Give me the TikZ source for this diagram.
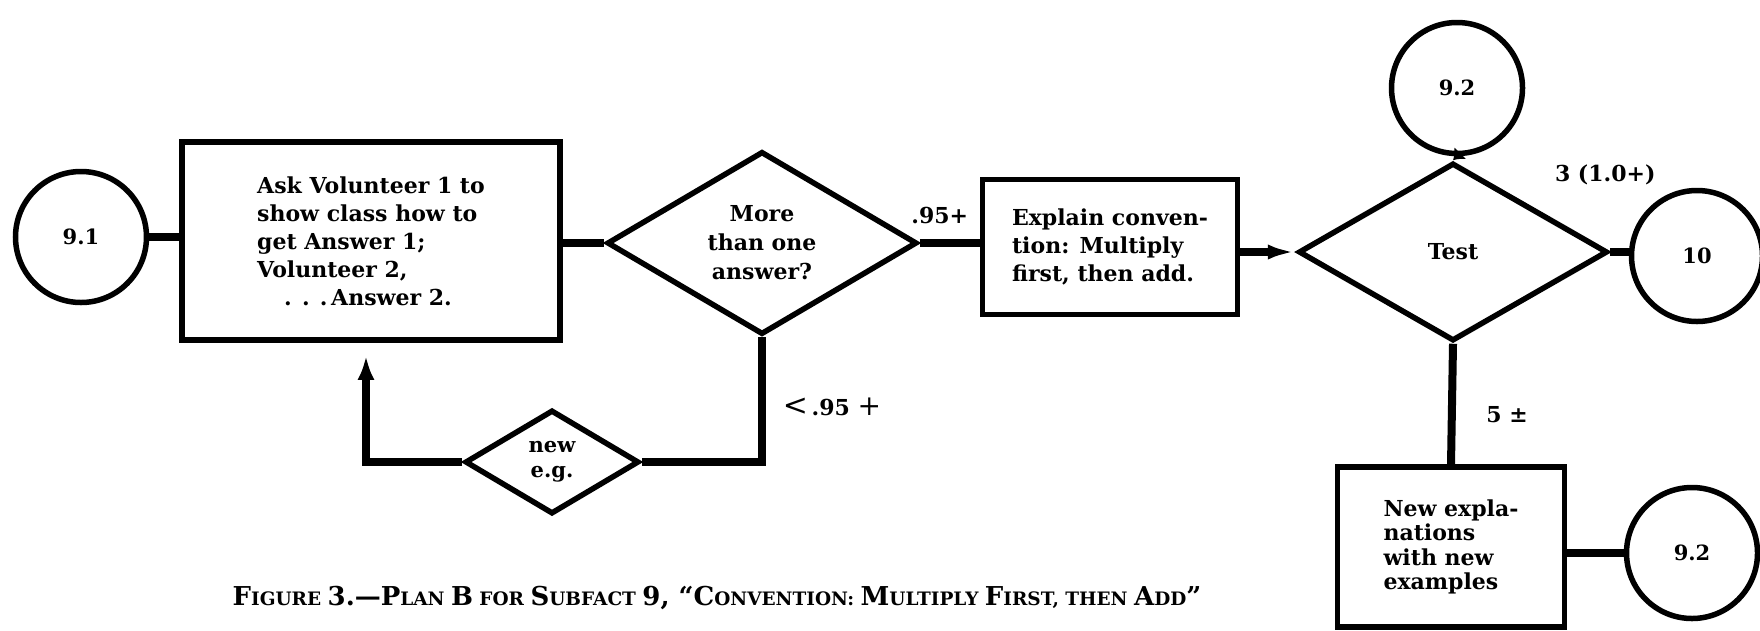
\documentclass[tikz,border=0pt]{standalone}
\usepackage{fontspec}
\setmainfont{DejaVu Serif}
\usetikzlibrary{shapes.geometric,arrows.meta,positioning}
\tikzset{
  station/.style={
    circle,
    draw,
    line width=5.5pt,
    minimum size=131pt,
    inner sep=0pt,
    font=\bfseries\fontsize{21}{24}\selectfont
  },
  stepbox/.style={
    rectangle,
    draw,
    line width=5.5pt,
    inner sep=0pt,
    align=left,
    font=\bfseries\fontsize{22}{28}\selectfont
  },
  choice/.style={
    diamond,
    draw,
    line width=5.5pt,
    inner sep=0pt,
    align=center,
    font=\bfseries\fontsize{22}{29}\selectfont
  },
  link/.style={
    line width=8pt
  },
  flowlabel/.style={
    font=\bfseries\fontsize{22}{26}\selectfont
  },
  caption/.style={
    font=\bfseries\fontsize{18.5}{22}\selectfont
  }
}
% large initials for the caption line
\newcommand\capinit[1]{{\fontsize{26}{22}\selectfont #1}}

\begin{document}
\begin{tikzpicture}[x=1pt, y=-1pt]
  \useasboundingbox (0,0) rectangle (1760,630);

  \node[station] (start) at (81,237) {9.1};

  \node[stepbox, minimum width=378pt, minimum height=198pt] (ask) at (371,241)
    {Ask Volunteer 1 to\\show class how to\\get Answer 1;\\Volunteer 2,\\\hspace*{27pt}. . .\,Answer 2.};

  \node[choice, minimum width=310pt, minimum height=181pt] (more) at (762,243)
    {More\\than one\\answer?};

  \node[stepbox, minimum width=255pt, minimum height=135pt] (explain) at (1110,247)
    {Explain conven-\\tion: Multiply\\first, then add.};

  \node[choice, minimum width=309pt, minimum height=178pt] (test) at (1453,252) {Test};

  \node[station] (retest) at (1457,88) {9.2};
  \node[station] (next) at (1697,256) {10};

  \node[stepbox, minimum width=227pt, minimum height=160pt,
        font=\bfseries\fontsize{22}{24.5}\selectfont] (newexp) at (1451,547)
    {New expla-\\nations\\with new\\examples};

  \node[station] (again) at (1692,553) {9.2};

  \node[choice, minimum width=174pt, minimum height=104pt,
        font=\bfseries\fontsize{21}{25}\selectfont] (neweg) at (552,462)
    {new\\e.g.};

  % connectors
  \draw[link] (start.east) -- (start.east -| ask.west);
  \draw[link] (ask.east |- more.west) -- (more.west);
  \draw[link] (more.east) -- (more.east -| explain.west);
  \draw[link, -{Latex[length=28pt,width=15pt]}] (explain.east |- test.west) -- (test.west);
  \draw[link, -{Latex[length=10pt,width=17pt]}] (retest.south) -- (test.north);
  \draw[link] (test.east) -- (test.east -| next.west);
  \draw[link] (test.south) -- (newexp.north);
  \draw[link] (newexp.east |- again.west) -- (again.west);

  % loop back for a new example
  \draw[link, line join=miter] (more.south) |- (neweg.east);
  \draw[link, line join=miter, -{Latex[length=24pt,width=17pt]}]
    (neweg.west) -| ([xshift=-5pt, yshift=-13pt]ask.south);

  % branch labels
  \node[flowlabel] (pass) at ([xshift=-40pt, yshift=32pt]explain.west) {.95+};
  \node[flowlabel] (fail) at ([xshift=70pt, yshift=-70pt]more.south)
    {{\mdseries\fontsize{30}{30}\selectfont<}\,.95 {\mdseries\fontsize{28}{28}\selectfont+}};
  \node[flowlabel] (high) at ([xshift=-5pt, yshift=77pt]test.east) {3 (1.0+)};
  \node[flowlabel] (mid) at ([xshift=54pt, yshift=-71pt]test.south) {5 ±};

  \node[caption] (title) at (717,598)
    {\capinit{F}IGURE \capinit{3.—P}LAN \capinit{B} FOR \capinit{S}UBFACT \capinit{9, “C}ONVENTION:
     \capinit{M}ULTIPLY \capinit{F}IRST, THEN \capinit{A}DD\capinit{”}};
\end{tikzpicture}
\end{document}
